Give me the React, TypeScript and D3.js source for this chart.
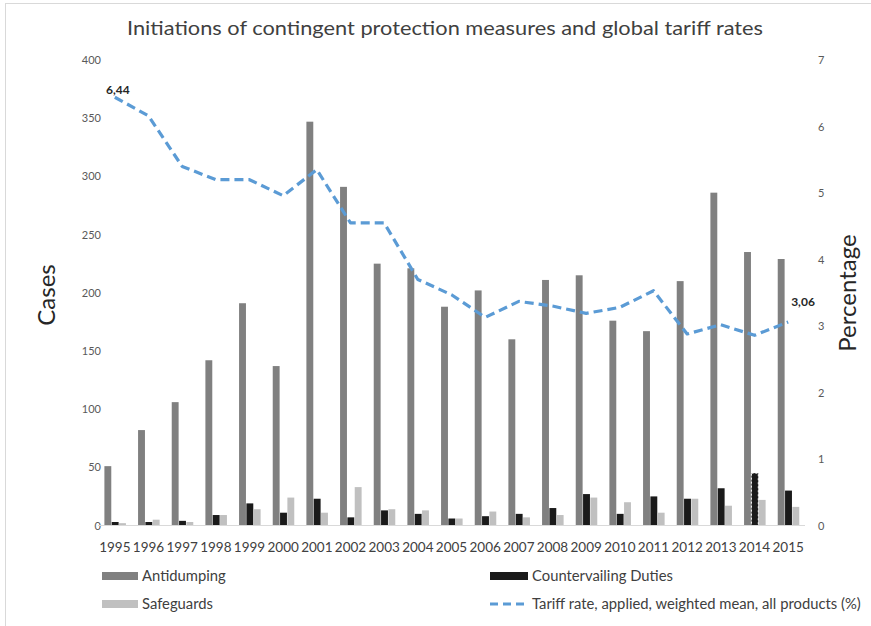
import React from "react";
import * as d3 from "d3";

const years = ["1995","1996","1997","1998","1999","2000","2001","2002","2003","2004","2005","2006","2007","2008","2009","2010","2011","2012","2013","2014","2015"];
const antidumping = [51, 82, 106, 142, 191, 137, 347, 291, 225, 221, 188, 202, 160, 211, 215, 176, 167, 210, 286, 235, 229];
const countervailing = [3, 3, 4, 9, 19, 11, 23, 7, 13, 10, 6, 8, 10, 15, 27, 10, 25, 23, 32, 45, 30];
const safeguards = [2, 5, 3, 9, 14, 24, 11, 33, 14, 13, 6, 12, 7, 9, 24, 20, 11, 23, 17, 22, 16];
const tariff = [6.44, 6.16, 5.4, 5.2, 5.2, 4.96, 5.35, 4.55, 4.55, 3.7, 3.47, 3.13, 3.37, 3.3, 3.19, 3.28, 3.53, 2.88, 3.02, 2.86, 3.06];
const leftTicks = [0, 50, 100, 150, 200, 250, 300, 350, 400];
const rightTicks = [0, 1, 2, 3, 4, 5, 6, 7];
const seriesNames = ["Antidumping", "Countervailing Duties", "Safeguards"];
const lineName = "Tariff rate, applied, weighted mean, all products (%)";
const title = "Initiations of contingent protection measures and global tariff rates";

const colors = ["#808080", "#1a1a1a", "#c0c0c0"];
const lineColor = "#5b9bd5";
const font = "Lato, 'Open Sans', sans-serif";

export default function App() {
  const W = 871, H = 626;
  const x = d3.scaleBand<string>().domain(years).range([98, 805]);
  const bw = x.bandwidth();
  const x1 = d3.scaleBand<string>().domain(seriesNames).range([bw * 0.19, bw * 0.83]).paddingInner(0.06);
  const yL = d3.scaleLinear().domain([0, 400]).range([525.5, 60]);
  const yR = d3.scaleLinear().domain([0, 7]).range([525.5, 60]);
  const data = [antidumping, countervailing, safeguards];
  const line = d3.line<number>()
    .x((_, i) => (x(years[i]) as number) + bw / 2)
    .y((d) => yR(d))
    .curve(d3.curveLinear);
  const lastI = years.length - 1;

  return (
    <svg width={W} height={H} style={{ position: "absolute", left: 0, top: 0, background: "#fff" }}>
      <rect x={5.5} y={3.5} width={W + 10} height={H + 10} fill="#fff" stroke="#d9d9d9" />
      <text x={445} y={35} textAnchor="middle" fontFamily={font} fontSize={20} fill="#404040" textLength={636} lengthAdjust="spacingAndGlyphs">{title}</text>

      {leftTicks.map((t) => (
        <text key={"l" + t} x={101} y={yL(t) + 4} textAnchor="end" fontFamily={font} fontSize={11} fill="#595959">{t}</text>
      ))}
      {rightTicks.map((t) => (
        <text key={"r" + t} x={818} y={yR(t) + 4} textAnchor="start" fontFamily={font} fontSize={11} fill="#595959">{t}</text>
      ))}

      <text transform={`translate(55,295) rotate(-90)`} textAnchor="middle" fontFamily={font} fontSize={24} fill="#262626">Cases</text>
      <text transform={`translate(856,293) rotate(-90)`} textAnchor="middle" fontFamily={font} fontSize={24} fill="#262626">Percentage</text>

      {data.map((arr, si) =>
        arr.map((v, i) => (
          <rect
            key={si + "-" + i}
            x={(x(years[i]) as number) + (x1(seriesNames[si]) as number)}
            y={yL(v)}
            width={x1.bandwidth()}
            height={yL(0) - yL(v)}
            fill={colors[si]}
            stroke={si === 1 && years[i] === "2014" ? "#ffffff" : "none"}
            strokeWidth={si === 1 && years[i] === "2014" ? 1 : 0}
            strokeDasharray={si === 1 && years[i] === "2014" ? "2,2" : undefined}
          />
        ))
      )}

      <line x1={98} x2={805} y1={525.5} y2={525.5} stroke="#d9d9d9" strokeWidth={1} />

      {years.map((yr) => (
        <text key={"x" + yr} x={(x(yr) as number) + bw / 2} y={552} textAnchor="middle" fontFamily={font} fontSize={13.5} fill="#404040">{yr}</text>
      ))}

      <path d={line(tariff) as string} fill="none" stroke={lineColor} strokeWidth={3.2} strokeDasharray="9,5" strokeLinejoin="round" />

      <text x={106} y={94} fontFamily={font} fontSize={12} fontWeight="bold" fill="#262626">{tariff[0].toFixed(2).replace(".", ",")}</text>
      <text x={(x(years[lastI]) as number) + bw / 2 + 3} y={306} fontFamily={font} fontSize={12} fontWeight="bold" fill="#262626">{tariff[lastI].toFixed(2).replace(".", ",")}</text>

      {/* legend */}
      <rect x={102} y={572} width={36} height={8} fill={colors[0]} />
      <text x={142} y={581} fontFamily={font} fontSize={14.8} fill="#404040">{seriesNames[0]}</text>
      <rect x={490} y={572} width={38} height={8} fill={colors[1]} />
      <text x={532} y={581} fontFamily={font} fontSize={14.8} fill="#404040">{seriesNames[1]}</text>
      <rect x={102} y={600} width={36} height={8} fill={colors[2]} />
      <text x={142} y={609} fontFamily={font} fontSize={14.8} fill="#404040">{seriesNames[2]}</text>
      <line x1={490} x2={526} y1={604} y2={604} stroke={lineColor} strokeWidth={3} strokeDasharray="8,5" />
      <text x={532} y={609} fontFamily={font} fontSize={14.8} fill="#404040">{lineName}</text>
    </svg>
  );
}
